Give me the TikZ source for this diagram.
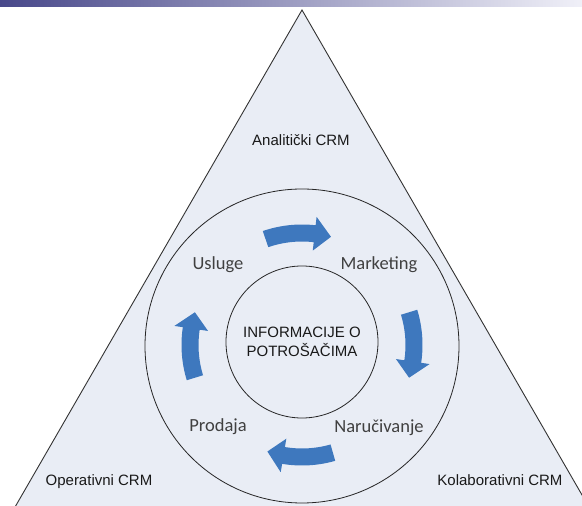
\documentclass[tikz,border=0pt]{standalone}
\usepackage{fontspec}
\setmainfont{Liberation Sans}
\newfontfamily\calibri{Carlito}
\usetikzlibrary{calc}
\definecolor{trifill}{RGB}{233,237,245}
\definecolor{arrowblue}{RGB}{62,120,190}
\definecolor{barleft}{RGB}{72,72,138}
\definecolor{barright}{RGB}{240,240,248}
\definecolor{labelgray}{RGB}{64,64,64}
\newcommand\cyclearrow[1]{%
  \fill[cyc] ($(hub)+({#1+17}:120.5)$) arc[start angle={#1+17},end angle={#1-8.5},radius=120.5]
    -- ($(hub)+({#1-8.5}:129)$) -- ($(hub)+({#1-17}:112)$) -- ($(hub)+({#1-8.5}:95)$)
    -- ($(hub)+({#1-8.5}:103.5)$) arc[start angle={#1-8.5},end angle={#1+17},radius=103.5] -- cycle;}
\begin{document}
\begin{tikzpicture}[x=1pt,y=1pt,
  ring/.style={circle,draw=black!85,line width=0.8pt,inner sep=0pt},
  crmlabel/.style={font=\fontsize{15}{18}\selectfont,text=black!90,anchor=base,inner sep=0pt},
  steplabel/.style={font=\calibri\fontsize{18.5}{22}\selectfont,text=labelgray,anchor=base,inner sep=0pt},
  cyc/.style={fill=arrowblue}]
\useasboundingbox (0,0) rectangle (582,506);
\clip (0,0) rectangle (582,506);
\fill[white] (0,0) rectangle (582,506);
\shade[left color=barleft,right color=barright] (0,499) rectangle (582,506);
\coordinate (apex) at (302,496);
\coordinate (bl) at (-1.7,-30);
\coordinate (br) at (605.7,-30);
\filldraw[fill=trifill,draw=black!80,line width=0.9pt] (apex) -- (bl) -- (br) -- cycle;
\coordinate (hub) at (302,161);
\node[ring,minimum size=314pt] (outer) at (302,160) {};
\node[ring,minimum size=152pt,align=center,font=\fontsize{15}{19}\selectfont,text=black!90] (info) at (302,164) {INFORMACIJE O\\POTROŠAČIMA};
\cyclearrow{92}
\cyclearrow{0}
\cyclearrow{269}
\cyclearrow{180}
\node[crmlabel] (anal) at (301,360) {Analitički CRM};
\node[crmlabel] (oper) at (99,20) {Operativni CRM};
\node[crmlabel] (kolab) at (500,20) {Kolaborativni CRM};
\node[steplabel] (usl) at (218,236) {Usluge};
\node[steplabel] (mkt) at (379,236) {Marketing};
\node[steplabel] (prod) at (218,74) {Prodaja};
\node[steplabel] (nar) at (379,73) {Naručivanje};
\end{tikzpicture}
\end{document}
